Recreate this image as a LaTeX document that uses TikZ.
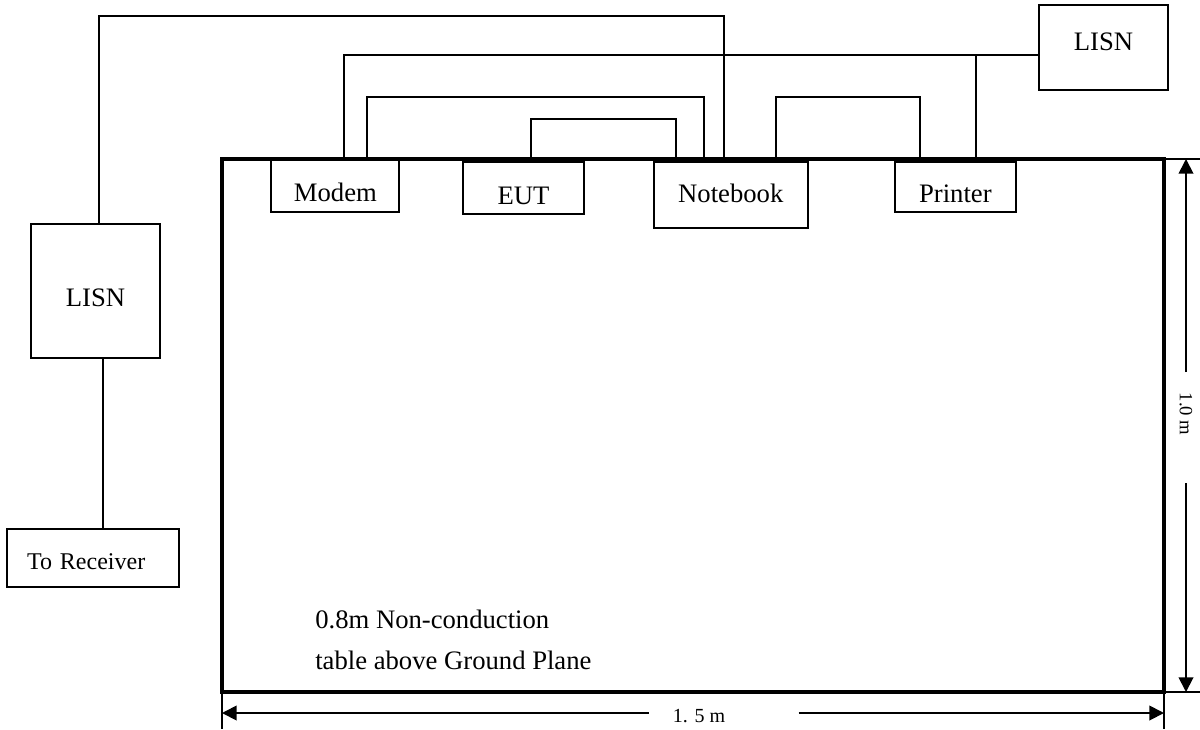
\documentclass[tikz,border=0pt]{standalone}
\usepackage{fontspec}
\setmainfont{Liberation Serif}
\usetikzlibrary{arrows.meta}
\begin{document}
\begin{tikzpicture}[x=0.75pt,y=-0.75pt,
  box/.style={draw, line width=1.4pt, inner sep=0pt, outer sep=0pt, text depth=0pt, font=\fontsize{20}{24}\selectfont},
  wire/.style={line width=1.4pt},
  tablebox/.style={draw, line width=2.4pt, inner sep=0pt, outer sep=0pt},
  ext/.style={line width=0.8pt},
  dimline/.style={line width=1.4pt, -{Triangle[length=11pt,width=11pt]}},
  dimtext/.style={font=\fontsize{14}{17}\selectfont, inner sep=0pt},
  note/.style={font=\fontsize{20}{24}\selectfont, anchor=base west, inner sep=0pt}
]
\useasboundingbox (0,0) rectangle (1200,729);

% table
\node[tablebox, minimum width=942*0.75pt, minimum height=533*0.75pt] (table) at (693,425.5) {};

% devices
\node[box, minimum width=128*0.75pt, minimum height=53*0.75pt, text height=24.5pt] (modem) at (335.4,185.5) {Modem};
\node[box, minimum width=121*0.75pt, minimum height=52*0.75pt, text height=25.2pt] (eut) at (523.5,188) {EUT};
\node[box, minimum width=154.4*0.75pt, minimum height=66*0.75pt, text height=11.7pt] (notebook) at (730.8,195) {Notebook};
\node[box, minimum width=120.7*0.75pt, minimum height=50*0.75pt, text height=23.7pt] (printer) at (955.4,187) {Printer};
\node[box, minimum width=129*0.75pt, minimum height=85*0.75pt, text height=4pt] (lisnR) at (1103.5,47.5) {LISN};
\node[box, minimum width=129*0.75pt, minimum height=134*0.75pt, text height=23.7pt] (lisnL) at (95.5,291) {LISN};
\node[box, minimum width=172*0.75pt, minimum height=58*0.75pt, text height=17.9pt,
      font=\fontsize{18}{22}\selectfont, align=left, text width=99pt, inner xsep=15pt] (torec) at (93,558) {To Receiver};

% wires
\coordinate (t1) at (99,16); \coordinate (t2) at (723.6,16);
\draw[wire] (lisnL.north -| t1) -- (t1) -- (t2) -- (notebook.north -| t2);
\coordinate (a1) at (343.6,55); \coordinate (a2) at (976,55);
\draw[wire] (modem.north -| a1) -- (a1) -- (lisnR.west |- a1);
\draw[wire] (printer.north -| a2) -- (a2);
\coordinate (b1) at (367,97); \coordinate (b2) at (703.6,97);
\draw[wire] (modem.north -| b1) -- (b1) -- (b2) -- (notebook.north -| b2);
\coordinate (c1) at (531,119); \coordinate (c2) at (675.7,119);
\draw[wire] (eut.north -| c1) -- (c1) -- (c2) -- (notebook.north -| c2);
\coordinate (d1) at (775.7,97); \coordinate (d2) at (919.6,97);
\draw[wire] (notebook.north -| d1) -- (d1) -- (d2) -- (printer.north -| d2);
\coordinate (r1) at (102.7,0);
\draw[wire] (lisnL.south -| r1) -- (torec.north -| r1);

% table text
\node[note] (note1) at (315,628) {0.8m Non-conduction};
\node[note] (note2) at (315,669) {table above Ground Plane};

% extension lines
\coordinate (eR) at (1200,0); \coordinate (eB) at (0,729);
\draw[ext] (table.north east) -- (table.north east -| eR);
\draw[ext] (table.south east) -- (table.south east -| eR);
\draw[ext] (table.south west) -- (table.south west |- eB);
\draw[ext] (table.south east) -- (table.south east |- eB);

% vertical dimension
\coordinate (vx) at (1186,0);
\coordinate (vg1) at (1186,372); \coordinate (vg2) at (1186,483);
\node[dimtext, rotate=-90] (dimv) at (1186,414) {1.0 m};
\draw[dimline] (vg1) -- (table.north -| vx);
\draw[dimline] (vg2) -- (table.south -| vx);

% horizontal dimension
\coordinate (hy) at (0,713);
\coordinate (hg1) at (648.6,713); \coordinate (hg2) at (798.7,713);
\draw[dimline] (hg1) -- (table.west |- hy);
\draw[dimline] (hg2) -- (table.east |- hy);
\node[dimtext, anchor=base, font=\fontsize{15}{18}\selectfont] (dimh) at (699,722) {1. 5 m};
\end{tikzpicture}
\end{document}
